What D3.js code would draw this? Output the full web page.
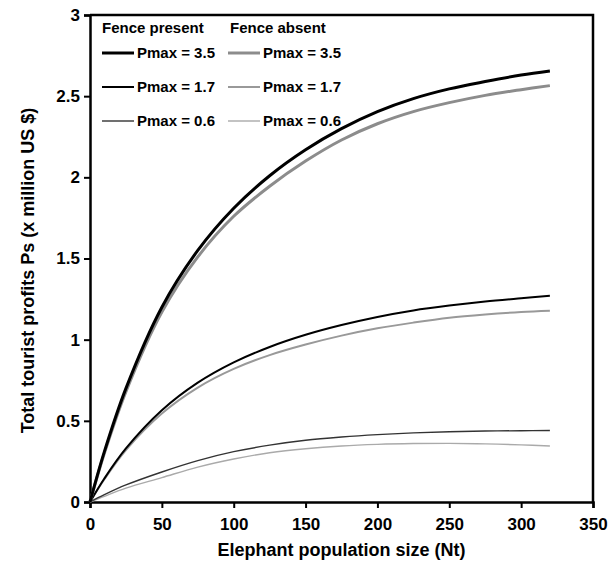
<!DOCTYPE html>
<html>
<head>
<meta charset="utf-8">
<script src="https://cdn.jsdelivr.net/npm/d3@7"></script>
<style>
  body { margin: 0; background: #fff; }
  text { font-family: "Liberation Sans", Arial, sans-serif; font-weight: bold; fill: #000; }
</style>
</head>
<body>
<div id="chart"></div>
<script>
// elephant population sizes (Nt) where the curves were read
var popSize = [0, 10, 25, 50, 75, 100, 125, 150, 175, 200, 225, 250, 275, 300, 320];

// total tourist profits, million US $
var present35 = [0, 0.31, 0.70, 1.20, 1.55, 1.81, 2.01, 2.17, 2.30, 2.405, 2.485, 2.545, 2.59, 2.63, 2.655];
var absent35  = [0, 0.30, 0.68, 1.17, 1.51, 1.76, 1.945, 2.10, 2.23, 2.33, 2.405, 2.46, 2.505, 2.54, 2.565];
var present17 = [0, 0.145, 0.33, 0.565, 0.735, 0.86, 0.955, 1.03, 1.09, 1.14, 1.18, 1.21, 1.235, 1.255, 1.27];
var absent17  = [0, 0.14, 0.32, 0.545, 0.705, 0.82, 0.905, 0.97, 1.025, 1.07, 1.105, 1.135, 1.155, 1.17, 1.178];
var present06 = [0, 0.045, 0.105, 0.185, 0.255, 0.31, 0.35, 0.38, 0.40, 0.415, 0.426, 0.433, 0.437, 0.439, 0.44];
var absent06  = [0, 0.035, 0.085, 0.15, 0.215, 0.265, 0.303, 0.328, 0.345, 0.355, 0.36, 0.361, 0.358, 0.352, 0.345];

var xTicks = [0, 50, 100, 150, 200, 250, 300, 350];
var yTicks = [0, 0.5, 1, 1.5, 2, 2.5, 3];

var series = [
  {name: "Pmax = 3.5", fence: "present", values: present35, color: "#000", width: 3},
  {name: "Pmax = 3.5", fence: "absent", values: absent35, color: "#8c8c8c", width: 3},
  {name: "Pmax = 1.7", fence: "present", values: present17, color: "#000", width: 2},
  {name: "Pmax = 1.7", fence: "absent", values: absent17, color: "#999", width: 2},
  {name: "Pmax = 0.6", fence: "present", values: present06, color: "#333", width: 1.4},
  {name: "Pmax = 0.6", fence: "absent", values: absent06, color: "#aaa", width: 1.4}
];

var margin = {top: 15, right: 21, bottom: 61, left: 90},
    width = 614 - margin.left - margin.right,
    height = 563 - margin.top - margin.bottom;

var svg = d3.select("#chart")
    .append("svg")
    .attr("width", 614)
    .attr("height", 563)
    .append("g")
    .attr("transform", "translate(" + margin.left + "," + margin.top + ")");

var x = d3.scaleLinear().domain([0, 350]).range([0, width]);
var y = d3.scaleLinear().domain([0, 3]).range([height, 0]);

// frame top and right
svg.append("path")
    .attr("d", "M0,0H" + width + "V" + height)
    .attr("fill", "none")
    .attr("stroke", "#000")
    .attr("stroke-width", 2.5);

// axes
var xAxis = svg.append("g")
    .attr("transform", "translate(0," + height + ")")
    .call(d3.axisBottom(x).tickValues(xTicks).tickSize(6).tickFormat(d3.format("d")));
var yAxis = svg.append("g")
    .call(d3.axisLeft(y).tickValues(yTicks).tickSize(6).tickFormat(function(d) { return d; }));

[xAxis, yAxis].forEach(function(a) {
  a.select(".domain").attr("stroke-width", 2.5);
  a.selectAll(".tick line").attr("stroke-width", 2);
  a.selectAll(".tick text").style("font-size", "17px");
});
xAxis.selectAll(".tick text").attr("dy", "1.1em");
yAxis.selectAll(".tick text").attr("x", -10);

// axis titles
svg.append("text")
    .attr("x", width / 2)
    .attr("y", height + 54)
    .attr("text-anchor", "middle")
    .style("font-size", "18px")
    .text("Elephant population size (Nt)");

svg.append("text")
    .attr("transform", "rotate(-90)")
    .attr("x", -height / 2 - 12)
    .attr("y", -56)
    .attr("text-anchor", "middle")
    .style("font-size", "18px")
    .text("Total tourist profits Ps (x million US $)");

// curves
var line = d3.line()
    .x(function(d, i) { return x(popSize[i]); })
    .y(function(d) { return y(d); })
    .curve(d3.curveCatmullRom.alpha(0.5));

svg.selectAll("path.curve")
    .data(series.slice().reverse())
    .enter()
    .append("path")
    .attr("class", "curve")
    .attr("fill", "none")
    .attr("stroke", function(d) { return d.color; })
    .attr("stroke-width", function(d) { return d.width; })
    .attr("d", function(d) { return line(d.values); });

// legend
var legend = svg.append("g").attr("transform", "translate(12,0)");
legend.append("text").attr("x", 0).attr("y", 18).style("font-size", "15px").text("Fence present");
legend.append("text").attr("x", 128).attr("y", 18).style("font-size", "15px").text("Fence absent");

series.forEach(function(s, i) {
  var row = Math.floor(i / 2), col = i % 2;
  var lx = col === 0 ? 0 : 126;
  var ly = 38 + row * 34;
  legend.append("line")
      .attr("x1", lx).attr("x2", lx + 32)
      .attr("y1", ly).attr("y2", ly)
      .attr("stroke", s.color)
      .attr("stroke-width", s.width);
  legend.append("text")
      .attr("x", lx + 35)
      .attr("y", ly + 5)
      .style("font-size", "15px")
      .text(s.name);
});
</script>
</body>
</html>
